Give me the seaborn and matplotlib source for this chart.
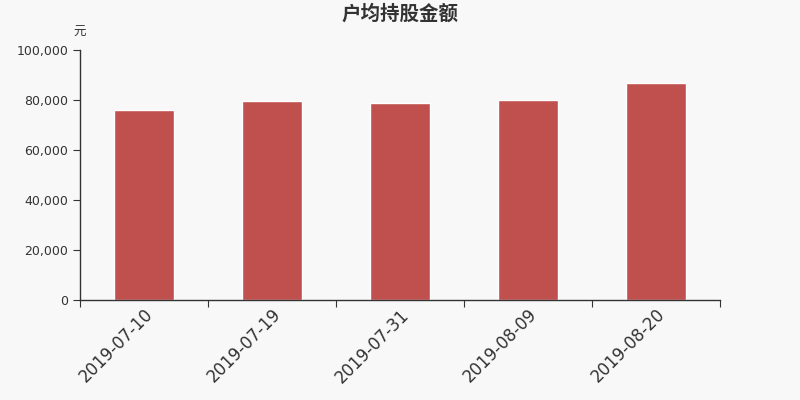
import numpy as np
import pandas as pd
import seaborn as sns
import matplotlib.pyplot as plt
from matplotlib.ticker import FuncFormatter, FixedLocator

dates = ['2019-07-10', '2019-07-19', '2019-07-31', '2019-08-09', '2019-08-20']
values = [76000, 79600, 78800, 80000, 87000]

df = pd.DataFrame({'date': dates, 'value': values})

sns.set_style('white')
plt.rcParams['font.family'] = ['DejaVu Sans', 'Noto Sans CJK SC']

fig = plt.figure(figsize=(8, 4), dpi=100, facecolor='#f8f8f8')
ax = fig.add_axes([0.1, 0.25, 0.8, 0.625])
ax.set_facecolor('#f8f8f8')

sns.barplot(data=df, x='date', y='value', color='#c0504d', saturation=1, width=0.47, ax=ax)

ax.set_xlim(-0.5, len(dates) - 0.5)
ax.set_ylim(0, 100000)
ax.set_yticks(np.arange(0, 100001, 20000))
ax.yaxis.set_major_formatter(FuncFormatter(lambda v, p: f'{int(v):,}'))

# tick marks at category boundaries, labels at centres
ax.xaxis.set_major_locator(FixedLocator(np.arange(-0.5, len(dates), 1.0)))
ax.set_xticklabels([''] * (len(dates) + 1))
ax.xaxis.set_minor_locator(FixedLocator(np.arange(len(dates))))
ax.set_xticklabels(dates, minor=True, rotation=45, ha='right', rotation_mode='anchor', fontsize=12, color='#333333')
ax.tick_params(axis='x', which='major', length=5, color='#333333', direction='out', bottom=True)
ax.tick_params(axis='x', which='minor', length=0, pad=4)
ax.tick_params(axis='y', length=5, color='#333333', direction='out', left=True, labelsize=9, labelcolor='#333333')

for s in ['top', 'right']:
    ax.spines[s].set_visible(False)
for s in ['left', 'bottom']:
    ax.spines[s].set_color('#333333')
    ax.spines[s].set_linewidth(1)

ax.set_xlabel('')
ax.set_ylabel('')
ax.text(0.0, 1.045, '元', transform=ax.transAxes, ha='center', va='bottom', fontsize=9, color='#333333',
        family='Noto Sans CJK SC')
fig.text(0.5, 0.965, '户均持股金额', ha='center', va='center', fontsize=14, fontweight='bold', color='#333333',
         family='Noto Sans CJK SC')

fig.savefig('out.png', dpi=100, facecolor=fig.get_facecolor())
